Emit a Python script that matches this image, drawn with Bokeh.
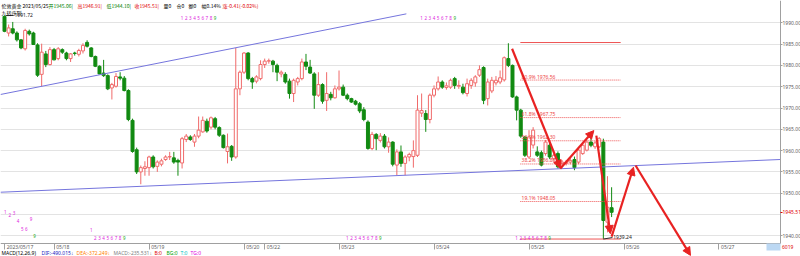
from bokeh.plotting import figure
from bokeh.models import (Range1d, FixedTicker, LinearAxis, NumeralTickFormatter,
                          Arrow, NormalHead, BoxAnnotation, ColumnDataSource)
from bokeh.core.properties import value
from bokeh.embed import file_html
from bokeh.resources import INLINE

# ---------------- data ----------------
opens = [1991.5, 1987.6, 1988.6, 1987.6, 1986.0, 1983.9, 1988.0, 1987.6, 1984.8, 1977.9,
         1982.7, 1980.2, 1983.7, 1981.6, 1983.7, 1982.9, 1981.6, 1982.9, 1982.6, 1983.4,
         1985.4, 1984.1, 1982.1, 1979.8, 1978.2, 1977.6, 1974.7, 1975.1, 1977.3, 1977.0,
         1974.1, 1967.1, 1960.2, 1955.0, 1955.8, 1956.0, 1958.5, 1956.3, 1956.8, 1957.9,
         1958.5, 1958.3, 1957.7, 1957.1, 1962.6, 1963.2, 1962.0, 1963.4, 1964.4, 1966.9,
         1965.5, 1967.5, 1965.4, 1963.6, 1959.8, 1961.0, 1958.5, 1974.5, 1978.4, 1982.9,
         1976.9, 1976.3, 1976.9, 1980.2, 1981.0, 1981.0, 1980.0, 1978.0, 1977.9, 1976.3,
         1973.4, 1976.1, 1976.9, 1980.8, 1979.6, 1978.0, 1973.0, 1975.5, 1971.8, 1973.2,
         1972.4, 1974.5, 1974.9, 1973.0, 1972.2, 1971.6, 1971.0, 1969.6, 1966.7, 1960.5,
         1963.8, 1962.4, 1963.4, 1960.9, 1962.0, 1956.6, 1959.7, 1957.0, 1958.5, 1958.6,
         1958.9, 1968.8, 1968.7, 1967.3, 1973.0, 1974.5, 1976.1, 1974.8, 1974.9, 1976.9,
         1975.1, 1974.9, 1973.4, 1975.3, 1975.9, 1977.7, 1979.5, 1972.2, 1974.0, 1975.9,
         1976.1, 1976.6, 1981.6, 1980.0, 1972.6, 1969.5, 1963.2, 1958.5, 1961.3, 1959.7,
         1959.5, 1959.3, 1961.25, 1958.1, 1959.3, 1957.0, 1957.0, 1957.3, 1957.9, 1957.3,
         1959.3, 1960.1, 1962.0, 1960.9, 1960.9, 1962.0, 1943.2, 1946.6]
highs = [1991.72, 1989.6, 1990.2, 1988.0, 1986.2, 1988.6, 1988.4, 1987.9, 1985.2, 1985.1,
         1983.4, 1984.3, 1984.1, 1984.3, 1984.0, 1983.2, 1982.9, 1983.2, 1983.9, 1985.2,
         1985.9, 1984.3, 1982.3, 1980.0, 1981.3, 1977.9, 1975.9, 1978.2, 1978.4, 1977.5,
         1974.4, 1967.5, 1960.7, 1956.5, 1957.5, 1958.8, 1958.9, 1957.7, 1958.1, 1958.9,
         1959.7, 1959.7, 1958.1, 1963.2, 1963.9, 1963.6, 1963.9, 1968.0, 1968.0, 1967.5,
         1968.0, 1967.9, 1965.7, 1963.8, 1964.0, 1961.3, 1984.1, 1978.8, 1983.1, 1983.1,
         1977.3, 1977.7, 1981.2, 1981.6, 1981.6, 1981.3, 1980.4, 1978.8, 1978.4, 1976.9,
         1976.9, 1977.3, 1981.6, 1982.7, 1981.3, 1978.4, 1978.4, 1975.8, 1978.4, 1973.8,
         1975.3, 1978.8, 1975.5, 1973.4, 1972.4, 1971.9, 1971.4, 1970.2, 1967.1, 1964.4,
         1964.1, 1964.1, 1963.9, 1963.1, 1962.2, 1960.3, 1961.2, 1958.9, 1959.5, 1962.4,
         1973.0, 1973.4, 1969.5, 1973.4, 1975.3, 1977.4, 1976.5, 1976.0, 1976.9, 1977.3,
         1976.5, 1975.7, 1976.9, 1977.0, 1977.7, 1980.0, 1979.8, 1976.9, 1977.3, 1977.5,
         1978.8, 1982.1, 1985.2, 1980.2, 1972.9, 1969.8, 1963.4, 1964.8, 1965.5, 1961.0,
         1960.0, 1962.5, 1961.8, 1959.3, 1959.8, 1957.8, 1957.8, 1958.2, 1958.6, 1960.5,
         1961.7, 1962.5, 1963.0, 1962.3, 1963.2, 1962.8, 1954.0, 1951.4]
lows = [1987.8, 1986.8, 1987.3, 1985.6, 1983.8, 1983.5, 1987.0, 1984.8, 1977.3, 1975.1,
        1979.6, 1980.0, 1981.2, 1981.2, 1982.7, 1981.2, 1980.8, 1982.3, 1982.1, 1982.8,
        1984.2, 1981.9, 1979.6, 1977.9, 1977.3, 1974.2, 1972.0, 1974.8, 1976.5, 1973.9,
        1966.9, 1959.5, 1954.5, 1952.1, 1954.1, 1954.1, 1955.8, 1955.0, 1956.3, 1957.6,
        1957.8, 1956.9, 1954.1, 1955.8, 1962.0, 1962.3, 1960.9, 1962.9, 1964.2, 1964.2,
        1965.0, 1965.0, 1963.2, 1960.5, 1957.0, 1957.6, 1958.1, 1973.0, 1978.0, 1976.5,
        1974.5, 1975.8, 1976.5, 1979.4, 1980.4, 1978.4, 1976.3, 1977.2, 1975.7, 1972.2,
        1971.4, 1975.3, 1976.5, 1978.9, 1978.0, 1969.8, 1972.6, 1971.0, 1969.3, 1971.8,
        1972.2, 1974.1, 1972.8, 1971.8, 1971.2, 1970.6, 1968.8, 1966.9, 1960.2, 1960.1,
        1960.1, 1961.9, 1960.5, 1959.5, 1956.3, 1954.2, 1956.2, 1954.2, 1957.5, 1956.0,
        1958.5, 1967.9, 1964.4, 1966.4, 1972.5, 1974.1, 1974.5, 1974.3, 1974.5, 1974.5,
        1974.5, 1973.2, 1972.7, 1974.5, 1975.0, 1977.3, 1970.9, 1970.6, 1973.5, 1975.3,
        1975.6, 1976.2, 1979.6, 1972.4, 1967.1, 1963.0, 1958.5, 1958.1, 1960.5, 1958.5,
        1956.3, 1958.8, 1958.0, 1957.6, 1955.8, 1956.4, 1956.5, 1956.8, 1955.4, 1956.8,
        1959.0, 1959.8, 1960.8, 1960.4, 1960.6, 1939.24, 1940.8, 1944.4]
closes = [1988.0, 1988.8, 1987.6, 1986.0, 1984.1, 1988.2, 1987.4, 1984.9, 1977.7, 1983.1,
          1980.2, 1983.7, 1981.3, 1983.9, 1983.1, 1981.6, 1982.7, 1982.8, 1983.5, 1984.7,
          1984.5, 1982.1, 1979.8, 1978.0, 1977.6, 1974.5, 1975.5, 1977.4, 1977.0, 1974.1,
          1967.3, 1959.8, 1955.0, 1956.0, 1956.2, 1958.5, 1956.2, 1957.3, 1957.6, 1958.5,
          1958.6, 1957.3, 1957.3, 1962.8, 1963.4, 1962.6, 1963.4, 1964.8, 1967.1, 1964.6,
          1967.7, 1965.5, 1963.6, 1960.7, 1960.9, 1958.5, 1974.5, 1978.4, 1982.9, 1976.9,
          1976.1, 1977.3, 1980.2, 1981.0, 1981.1, 1980.2, 1978.4, 1978.4, 1976.1, 1973.4,
          1976.5, 1976.9, 1980.8, 1979.8, 1978.2, 1973.0, 1975.5, 1971.6, 1973.4, 1972.4,
          1974.5, 1974.9, 1973.0, 1972.2, 1971.4, 1970.9, 1969.3, 1967.3, 1960.5, 1963.8,
          1962.8, 1963.4, 1960.9, 1962.0, 1956.8, 1959.7, 1957.0, 1958.5, 1959.1, 1960.0,
          1969.5, 1969.4, 1967.3, 1973.0, 1974.5, 1976.1, 1974.9, 1975.2, 1976.5, 1975.3,
          1975.3, 1973.6, 1975.7, 1976.5, 1977.3, 1979.0, 1971.8, 1976.1, 1976.5, 1976.5,
          1977.1, 1981.8, 1980.0, 1972.6, 1969.5, 1963.4, 1958.9, 1963.2, 1964.8, 1958.9,
          1956.6, 1962.0, 1958.5, 1958.9, 1956.2, 1957.3, 1957.3, 1957.7, 1956.0, 1960.1,
          1961.25, 1962.0, 1961.25, 1961.8, 1962.8, 1943.6, 1946.7, 1945.51]

day_ticks = [0, 12, 35, 58, 63, 81, 104, 127, 150, 173]
day_labels = ["2023/05/17", "05/18", "05/19", "05/20", "05/22",
              "05/23", "05/24", "05/25", "05/26", "05/27"]
grid_ticks = [1940, 1945, 1950, 1955, 1960, 1965, 1970, 1975, 1980, 1985, 1990]
label_ticks = [1940, 1950, 1955, 1960, 1965, 1970, 1975, 1980, 1985, 1990]
last_price = 1945.51
period_high = 1991.72
swing_high = 1985.37
swing_low = 1939.24
fib_ratios = [1.0, 0.809, 0.618, 0.5, 0.382, 0.191, 0.0]
fib_start, fib_end = 124.9, 149.2

upper_trend_x = [-0.97, 97.3]
upper_trend_y = [1973.17, 1992.10]
lower_trend_x = [-0.97, 188.38]
lower_trend_y = [1950.23, 1957.93]

arrow_x0 = [122.9, 134.6, 143.3, 147.0, 152.8]
arrow_y0 = [1983.9, 1955.8, 1963.5, 1939.8, 1956.5]
arrow_x1 = [134.6, 142.7, 146.7, 152.3, 166.1]
arrow_y1 = [1955.8, 1964.7, 1940.5, 1956.1, 1935.4]

# TD sequential counts (candle index, digit)
td_digits = ["1", "2", "3", "4", "5", "6", "7", "8", "9"]
td_top1 = list(range(43, 52))
td_top2 = list(range(101, 110))
td_bot1 = list(range(21, 30))
td_bot2 = list(range(83, 92))
td_bot3 = list(range(124, 133))
# scattered counts at the far left (candle index, digit, price)
td_left_x = [0.2, 1.3, 2.3, 3.3, 4.3, 5.3, 6.4, 7.3]
td_left_d = ["1", "2", "3", "4", "5", "6", "9", "9"]
td_left_y = [1945.6, 1944.8, 1945.3, 1943.4, 1941.7, 1941.5, 1944.0, 1939.9]

header = [("伦敦黄金", "#000000"), ("2023/05/25", "#000000"), ("开1945.06|", "#008000"),
          ("高1946.91|", "#e00000"), ("低1944.10|", "#008000"), ("收1945.51|", "#e00000"),
          ("量0", "#000000"), ("仓0", "#000000"), ("额0", "#000000"), ("幅0.14%", "#000000"),
          ("涨-0.41(-0.02%)", "#e00000")]
header_px = [1, 22, 48, 77, 106, 134, 163, 176, 188, 201, 222]
macd = [("MACD(12,26,9)", "#000000"), ("DIF:-490.015↓", "#2020c0"), ("DEA:-372.249↓", "#ff8000"),
        ("MACD:-235.531↓", "#808080"), ("B:0", "#e00000"), ("BG:0", "#00a000"),
        ("T:0", "#00c0c0"), ("TG:0", "#e000e0")]
macd_px = [1, 41, 76, 113, 154, 166, 180, 190]
corner_text = "6019"

# ---------------- pixel geometry ----------------
W, H = 800, 256
X0PX, DX = 4.0, 4.13          # pixel of candle 0, pixels per candle
Y0PX, YREF, PPU = 22.3, 1990.0, 4.26


def px2x(px):
    return (px - X0PX) / DX


def py2y(py):
    return YREF - (py - Y0PX) / PPU


AX_RIGHT = px2x(780)
AX_BOTTOM = py2y(243)
FS = "5px"

p = figure(width=W, height=H, x_range=Range1d(px2x(0), px2x(W)),
           y_range=Range1d(py2y(H), py2y(0)),
           output_backend="svg", toolbar_location=None, min_border=0,
           y_axis_location="right", x_axis_location="below",
           outline_line_color=None, background_fill_color="white")

CJK = value("Noto Sans CJK SC")
LAT = value("Noto Sans")

# grid
p.xgrid.visible = False
p.ygrid.ticker = FixedTicker(ticks=grid_ticks)
p.ygrid.grid_line_color = "#e3e3e3"
p.ygrid.grid_line_width = 1

# white mask right of axis (over grid, under axis labels)
p.add_layout(BoxAnnotation(left=AX_RIGHT, fill_color="white", fill_alpha=1,
                           line_color=None, level="glyph"))
# light blue block at the bottom right of the time axis
p.add_layout(BoxAnnotation(left=px2x(766), right=AX_RIGHT, bottom=py2y(250), top=AX_BOTTOM,
                           fill_color="#bcd8f3", fill_alpha=1, line_color=None, level="overlay"))

# right price axis
ya = p.yaxis[0]
ya.fixed_location = AX_RIGHT
ya.ticker = FixedTicker(ticks=label_ticks)
ya.formatter = NumeralTickFormatter(format="0.00")
ya.bounds = (AX_BOTTOM, py2y(0))
ya.axis_line_color = "#a0a0a0"
ya.major_tick_line_color = "#a0a0a0"
ya.major_tick_out = 2
ya.major_tick_in = 0
ya.minor_tick_line_color = None
ya.major_label_standoff = 0
ya.major_label_text_font_size = FS
ya.major_label_text_color = "#606060"
ya.major_label_text_font = "Noto Sans"

lp = LinearAxis(fixed_location=AX_RIGHT, ticker=FixedTicker(ticks=[last_price]),
                formatter=NumeralTickFormatter(format="0.00"),
                axis_line_color=None, major_tick_line_color="#e00000",
                major_tick_out=2, major_tick_in=0, minor_tick_line_color=None,
                major_label_standoff=0, major_label_text_font_size=FS,
                major_label_text_color="#e00000", major_label_text_font="Noto Sans")
p.add_layout(lp, "right")

# bottom date axis: line + ticks
xa = p.xaxis[0]
xa.fixed_location = AX_BOTTOM
xa.ticker = FixedTicker(ticks=day_ticks)
xa.bounds = (px2x(0), AX_RIGHT)
xa.axis_line_color = "#a0a0a0"
xa.major_tick_line_color = "#a0a0a0"
xa.major_tick_out = 6
xa.major_tick_in = 0
xa.minor_tick_line_color = None
xa.major_label_text_color = None
xa.major_label_text_font_size = FS

# date labels, offset so they sit to the right of each tick
lab_pos = [t + (2 + len(s) * 2.7 / 2) / DX for t, s in zip(day_ticks, day_labels)]
xl = LinearAxis(fixed_location=AX_BOTTOM, ticker=FixedTicker(ticks=lab_pos),
                major_label_overrides={pos: s for pos, s in zip(lab_pos, day_labels)},
                axis_line_color=None, major_tick_line_color=None, minor_tick_line_color=None,
                major_tick_out=0, major_tick_in=0, major_label_standoff=0,
                major_label_text_font_size=FS, major_label_text_color="#606060",
                major_label_text_font="Noto Sans")
p.add_layout(xl, "below")

# candles
idx = list(range(len(opens)))
up = [c >= o for o, c in zip(opens, closes)]
src = ColumnDataSource(dict(
    x=idx, o=opens, h=highs, l=lows, c=closes,
    top=[max(o, c) for o, c in zip(opens, closes)],
    bot=[min(o, c) for o, c in zip(opens, closes)],
    col=["#f06a6a" if u else "#118a11" for u in up],
    fill=["white" if u else "#118a11" for u in up],
))
p.segment(x0="x", y0="h", x1="x", y1="top", color="col", line_width=1, source=src)
p.segment(x0="x", y0="bot", x1="x", y1="l", color="col", line_width=1, source=src)
p.vbar(x="x", width=0.72, top="top", bottom="bot", fill_color="fill",
       line_color="col", line_width=1, source=src)

# trend lines
p.line(upper_trend_x, upper_trend_y, line_color="#7575dd", line_width=1)
p.line(lower_trend_x, lower_trend_y, line_color="#7575dd", line_width=1)

# fibonacci levels
fib_levels = [swing_low + r * (swing_high - swing_low) for r in fib_ratios]
for r, lv in zip(fib_ratios, fib_levels):
    dash = "solid" if r in (0.0, 1.0) else "1 1"
    p.segment(x0=[fib_start], y0=[lv], x1=[fib_end], y1=[lv], line_color="#ee5555",
              line_width=1, line_dash=dash)
    if r not in (0.0, 1.0):
        p.text(x=[fib_start + 0.3], y=[lv], text=[f"{r*100:.1f}% {lv:.2f}"],
               text_color="#ee4444", text_font_size=FS, text_baseline="bottom",
               text_font=LAT, y_offset=-0.5)

# high / low markers
p.segment(x0=[0.4], y0=[period_high], x1=[2.2], y1=[period_high], line_color="#333333", line_width=1)
p.text(x=[2.4], y=[period_high], text=[f"{period_high:.2f}"], text_color="#222222",
       text_font_size=FS, text_baseline="middle", text_font=LAT)
low_i = lows.index(swing_low)
p.segment(x0=[low_i], y0=[swing_low], x1=[low_i + 2.2], y1=[swing_low + 0.35],
          line_color="#333333", line_width=1)
p.text(x=[low_i + 2.4], y=[swing_low], text=[f"{swing_low:.2f}"], text_color="#222222",
       text_font_size=FS, text_baseline="bottom", text_font=LAT)

# arrows
for x0, y0, x1, y1 in zip(arrow_x0, arrow_y0, arrow_x1, arrow_y1):
    p.add_layout(Arrow(x_start=x0, y_start=y0, x_end=x1, y_end=y1,
                       line_color="#e82222", line_width=2.2,
                       end=NormalHead(size=8, fill_color="#e82222", line_color="#e82222")))

# TD sequential digits
PINK, GREEN = "#dd22dd", "#22aa22"
td_y_top = py2y(17)
td_y_bot = py2y(237)
for seq, yy in [(td_top1, td_y_top), (td_top2, td_y_top), (td_bot1, td_y_bot),
                (td_bot2, td_y_bot), (td_bot3, td_y_bot)]:
    ys = [yy] * len(seq)
    if seq is td_bot1:
        ys[0] = py2y(229)
    cols = [PINK] * 8 + [GREEN]
    p.text(x=seq, y=ys, text=td_digits[:len(seq)], text_color=cols,
           text_font_size="4.5px", text_align="center", text_baseline="middle",
           text_font=LAT)
p.text(x=td_left_x, y=td_left_y, text=td_left_d,
       text_color=[PINK] * (len(td_left_d) - 1) + [GREEN],
       text_font_size="4.5px", text_align="center", text_baseline="middle", text_font=LAT)

# header line
for (s, c), px in zip(header, header_px):
    p.text(x=[px2x(px)], y=[py2y(1)], text=[s], text_color=c, text_font_size=FS,
           text_baseline="top", text_font=CJK)
p.text(x=[px2x(1)], y=[py2y(8)], text=["九转序列"], text_color="#000000",
       text_font_size=FS, text_baseline="top", text_font=CJK)

# MACD line
for (s, c), px in zip(macd, macd_px):
    p.text(x=[px2x(px)], y=[py2y(252)], text=[s], text_color=c, text_font_size=FS,
           text_baseline="middle", text_font=LAT)

# bottom-right corner text
p.text(x=[px2x(781.5)], y=[py2y(246.5)], text=[corner_text], text_color="#e00000",
       text_font_size=FS, text_baseline="middle", text_font=LAT, level="overlay")

open("out.html", "w").write(file_html(p, INLINE))
